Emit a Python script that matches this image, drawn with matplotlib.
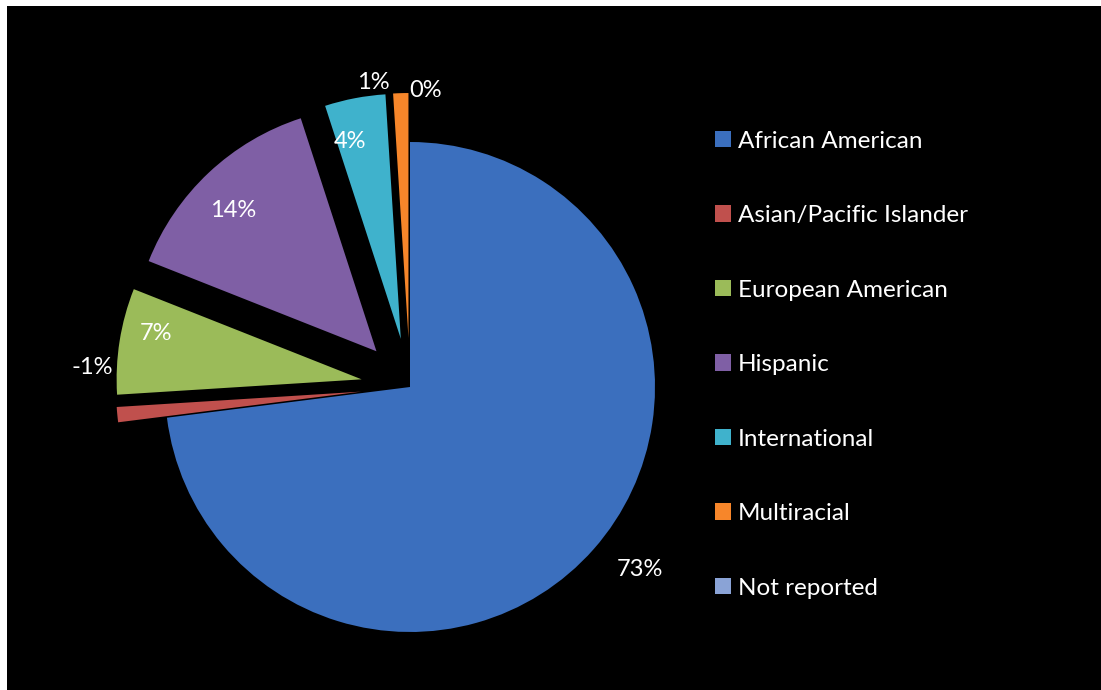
import numpy as np
import matplotlib.pyplot as plt
from matplotlib.patches import Rectangle

groups = ['African American', 'Asian/Pacific Islander', 'European American',
          'Hispanic', 'International', 'Multiracial', 'Not reported']
shares = [73, -1, 7, 14, 4, 1, 0]
colors = ['#3b6fbe', '#c0504d', '#9bbb59', '#7f5fa5', '#3fb2cc', '#f7862a', '#8aa3d6']

plt.rcParams['font.family'] = ['Lato', 'DejaVu Sans']

W, H = 1101, 690
fig = plt.figure(figsize=(W / 100, H / 100), dpi=100, facecolor='white')
fig.patches.append(Rectangle((7 / W, 0), 1, (H - 6) / H, transform=fig.transFigure,
                             facecolor='black', edgecolor='none', zorder=-1))

# pie centre and radius in pixels
cx, cy, r = 410, H - 387, 245
ax = fig.add_axes([0, 0, 1, 1])
ax.set_facecolor('none')

sizes = np.abs(shares)
explode = [0] + [0.2] * (len(shares) - 1)
wedges, _ = ax.pie(sizes, colors=colors, startangle=90, counterclock=False,
                   explode=explode, radius=1,
                   wedgeprops=dict(linewidth=0))
ax.set_xlim(-cx / r, (W - cx) / r)
ax.set_ylim(-cy / r, (H - cy) / r)
ax.set_axis_off()

# data labels: (radius from pie centre, angle shift in degrees)
label_pos = [(1.2, 3), (1.3, -9), (1.06, -3), (1.02, 2), (1.03, 3), (1.25, 5), (1.21, -3)]
for w, val, (rad, dang) in zip(wedges, shares, label_pos):
    mid = np.deg2rad((w.theta1 + w.theta2) / 2 + dang)
    ax.text(rad * np.cos(mid), rad * np.sin(mid), f'{val}%', color='white',
            fontsize=17, ha='center', va='center')

leg = fig.legend(wedges, groups, loc='upper left', bbox_to_anchor=(705 / W, 1 - 121 / H),
                 frameon=False, fontsize=17.5, labelcolor='white',
                 handlelength=0.66, handleheight=0.66, handletextpad=0.3,
                 labelspacing=2.2, borderaxespad=0)

fig.savefig('out.png', dpi=100, facecolor=fig.get_facecolor())
